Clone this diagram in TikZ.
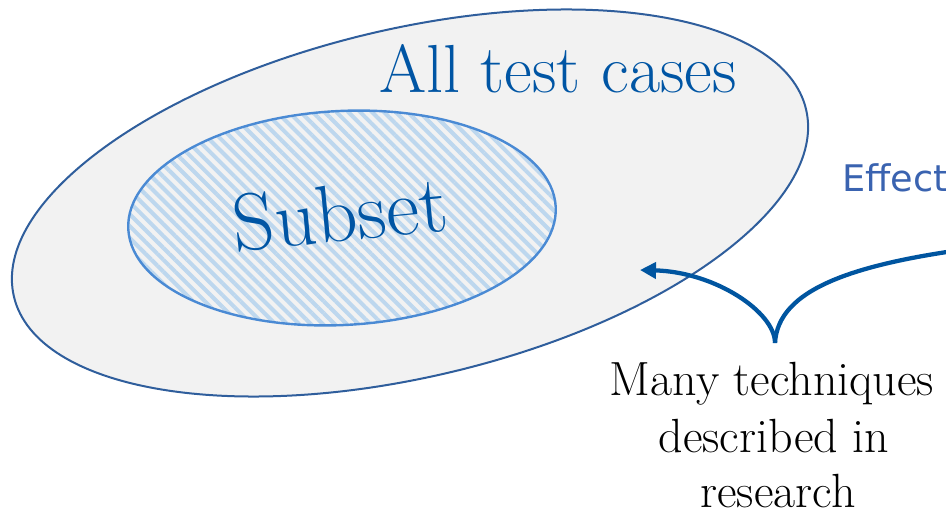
\documentclass[tikz,border=0pt]{standalone}
\usepackage{fontspec}
\newfontfamily\handfont{DejaVu Sans}
\usetikzlibrary{patterns.meta,arrows.meta}

\definecolor{outerline}{HTML}{2F5E9C}
\definecolor{outerfill}{HTML}{F2F2F2}
\definecolor{innerline}{HTML}{4A8AD4}
\definecolor{hatch}{HTML}{BDD7EE}
\definecolor{labelblue}{HTML}{0055A4}
\definecolor{arrowblue}{HTML}{0055A0}
\definecolor{notecolor}{HTML}{3A63B0}

\tikzset{
  setlabel/.style={inner sep=0pt, text=labelblue},
  caption/.style={inner sep=0pt, anchor=base, text=black,
    font=\fontsize{36}{44}\selectfont},
  pointer/.style={draw=arrowblue, line width=3.2pt,
    -{Triangle[length=12pt,width=12pt]}},
  branch/.style={draw=arrowblue, line width=3.2pt}
}

\begin{document}
\begin{tikzpicture}[x=0.75pt,y=-0.75pt]
  \clip (0,0) rectangle (946,524);

  % outer set: all test cases
  \draw[draw=outerline, fill=outerfill, line width=1.5pt]
    (410,203) ellipse[x radius=407, y radius=174, rotate=13.3];

  % inner set: hatched subset
  \draw[draw=innerline, line width=1.8pt,
        pattern={Lines[angle=-45,distance=6.3pt,line width=3pt]},
        pattern color=hatch]
    (342,218) ellipse[x radius=214, y radius=107, rotate=3];

  \node[setlabel, anchor=base, font=\fontsize{51}{60}\selectfont]
    (all) at (558,93) {All test cases};
  \node[setlabel, anchor=base, rotate=5.5, font=\fontsize{61}{72}\selectfont]
    (subset) at (343,241) {Subset};

  \node[inner sep=0pt, anchor=base west, text=notecolor,
        font=\handfont\fontsize{27.5}{32}\selectfont]
    (effect) at (842,192) {Effect};

  % brace-shaped pointer
  \coordinate (tip) at (775,343);
  \coordinate (lend) at (640,270);
  \coordinate (rend) at (1000,245);
  \draw[pointer] (tip) .. controls (775,312) and (715,272) .. (lend);
  \draw[branch] (tip) .. controls (778,290) and (850,262) .. (rend);

  \node[caption] (line1) at (772,395) {Many techniques};
  \node[caption] (line2) at (774,452) {described in};
  \node[caption] (line3) at (778,507) {research};
\end{tikzpicture}
\end{document}
